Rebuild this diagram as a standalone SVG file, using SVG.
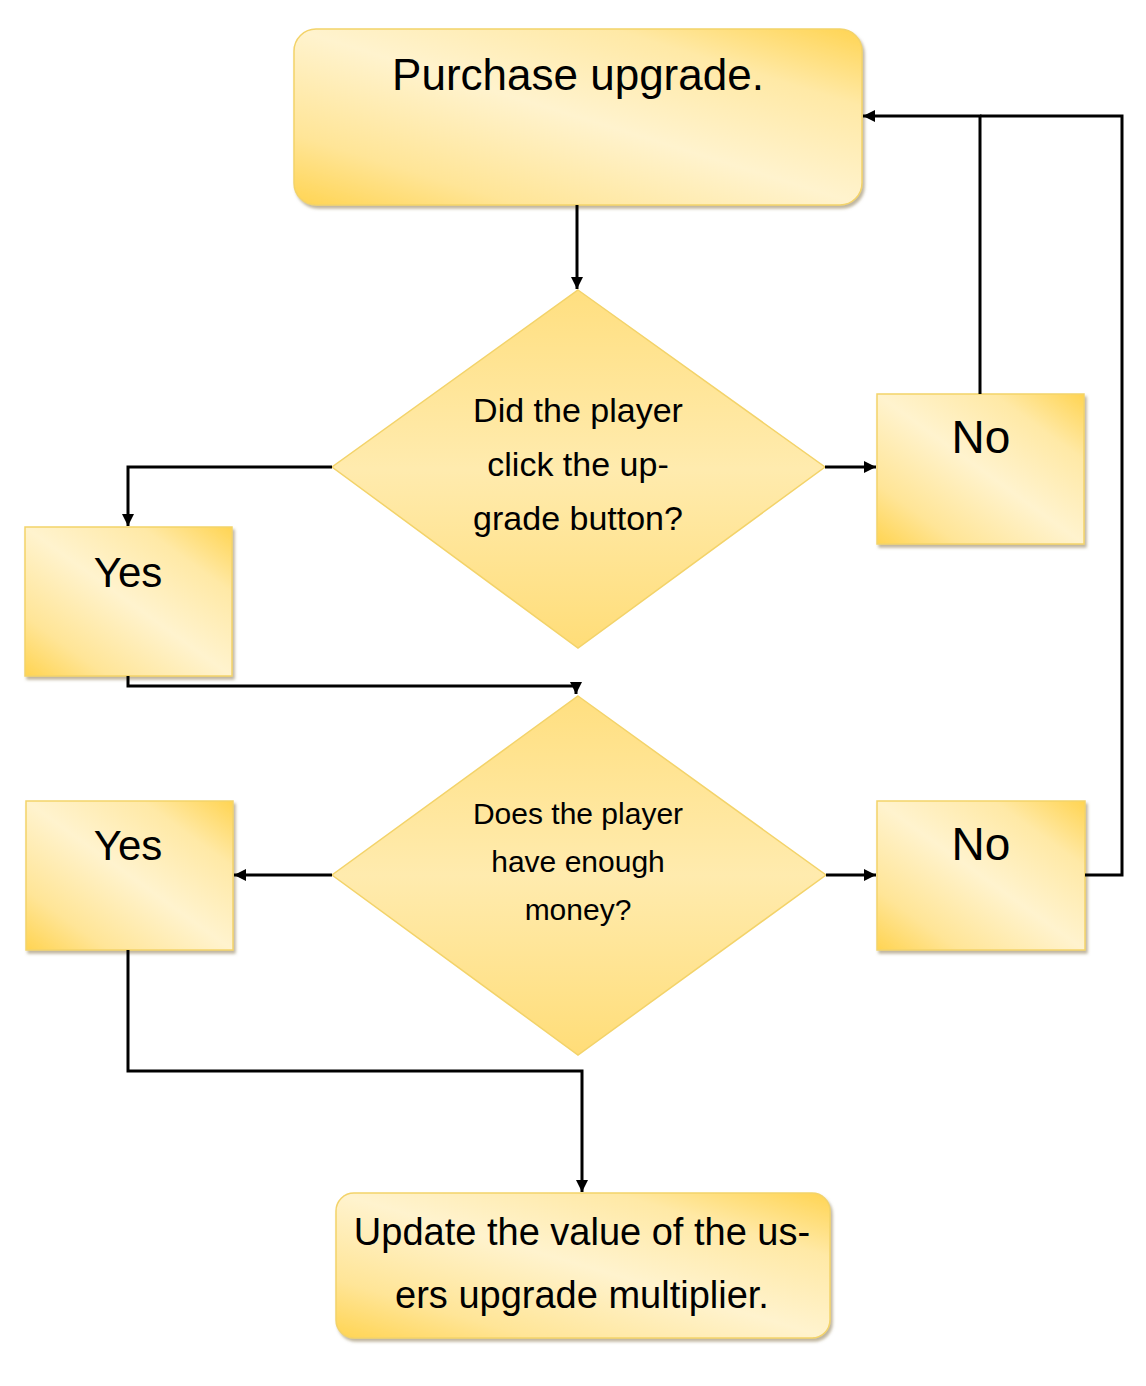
<svg xmlns="http://www.w3.org/2000/svg" width="1146" height="1386" viewBox="0 0 1146 1386">
<defs>
<linearGradient id="g" x1="0" y1="1" x2="1" y2="0">
<stop offset="0" stop-color="#FFD452"/>
<stop offset="0.2" stop-color="#FFE597"/>
<stop offset="0.5" stop-color="#FFF3CE"/>
<stop offset="0.78" stop-color="#FFE9A6"/>
<stop offset="1" stop-color="#FFD452"/>
</linearGradient>
<linearGradient id="gd" x1="0" y1="0" x2="0" y2="1">
<stop offset="0" stop-color="#FFDF80"/>
<stop offset="0.5" stop-color="#FFEBAE"/>
<stop offset="1" stop-color="#FFDD78"/>
</linearGradient>
<filter id="sh" x="-5%" y="-5%" width="112%" height="115%">
<feDropShadow dx="2" dy="3" stdDeviation="1.5" flood-color="#8a7a50" flood-opacity="0.55"/>
</filter>
<marker id="ah" viewBox="0 0 10 10" refX="10" refY="5" markerWidth="4" markerHeight="4" orient="auto" markerUnits="strokeWidth">
<path d="M0,0 L10,5 L0,10 z" fill="#000"/>
</marker>
</defs>
<style>
.box{fill:url(#g);stroke:#F3D36A;stroke-width:1.5;filter:url(#sh)}
.dia{fill:url(#gd);stroke:#F3D36A;stroke-width:1.5}
.t{font-family:"Liberation Sans",Arial,sans-serif;fill:#000;text-anchor:middle}
.c{fill:none;stroke:#000;stroke-width:3}
</style>
<g id="purchase">
<rect class="box" x="294" y="29" width="568" height="176" rx="22"/>
<text class="t" x="578" y="90" font-size="44">Purchase upgrade.</text>
</g>
<g id="decision1">
<polygon class="dia" points="578,290 825,467 578,648 332,467"/>
<text class="t" x="578" y="422" font-size="34">Did the player</text>
<text class="t" x="578" y="476" font-size="34">click the up-</text>
<text class="t" x="578" y="530" font-size="34">grade button?</text>
</g>
<g id="no1">
<rect class="box" x="877" y="394" width="207" height="150"/>
<text class="t" x="981" y="453" font-size="46">No</text>
</g>
<g id="yes1">
<rect class="box" x="25" y="527" width="207" height="149"/>
<text class="t" x="128" y="587" font-size="42">Yes</text>
</g>
<g id="decision2">
<polygon class="dia" points="578,696 826,875 578,1055 332,875"/>
<text class="t" x="578" y="824" font-size="30">Does the player</text>
<text class="t" x="578" y="872" font-size="30">have enough</text>
<text class="t" x="578" y="920" font-size="30">money?</text>
</g>
<g id="yes2">
<rect class="box" x="26" y="801" width="207" height="149"/>
<text class="t" x="128" y="860" font-size="42">Yes</text>
</g>
<g id="no2">
<rect class="box" x="877" y="801" width="208" height="149"/>
<text class="t" x="981" y="860" font-size="46">No</text>
</g>
<g id="update">
<rect class="box" x="336" y="1193" width="494" height="145" rx="18"/>
<text class="t" x="582" y="1245" font-size="38">Update the value of the us-</text>
<text class="t" x="582" y="1308" font-size="38">ers upgrade multiplier.</text>
</g>
<g id="connectors">
<path class="c" d="M577,205 V289" marker-end="url(#ah)"/>
<path class="c" d="M825,467 H876" marker-end="url(#ah)"/>
<path class="c" d="M332,467 H128 V526" marker-end="url(#ah)"/>
<path class="c" d="M980,394 V116 H863" marker-end="url(#ah)"/>
<path class="c" d="M1085,875 H1122 V116 H980"/>
<path class="c" d="M128,676 V686 H576 V694" marker-end="url(#ah)"/>
<path class="c" d="M332,875 H234" marker-end="url(#ah)"/>
<path class="c" d="M826,875 H876" marker-end="url(#ah)"/>
<path class="c" d="M128,950 V1071 H582 V1192" marker-end="url(#ah)"/>
</g>
</svg>
